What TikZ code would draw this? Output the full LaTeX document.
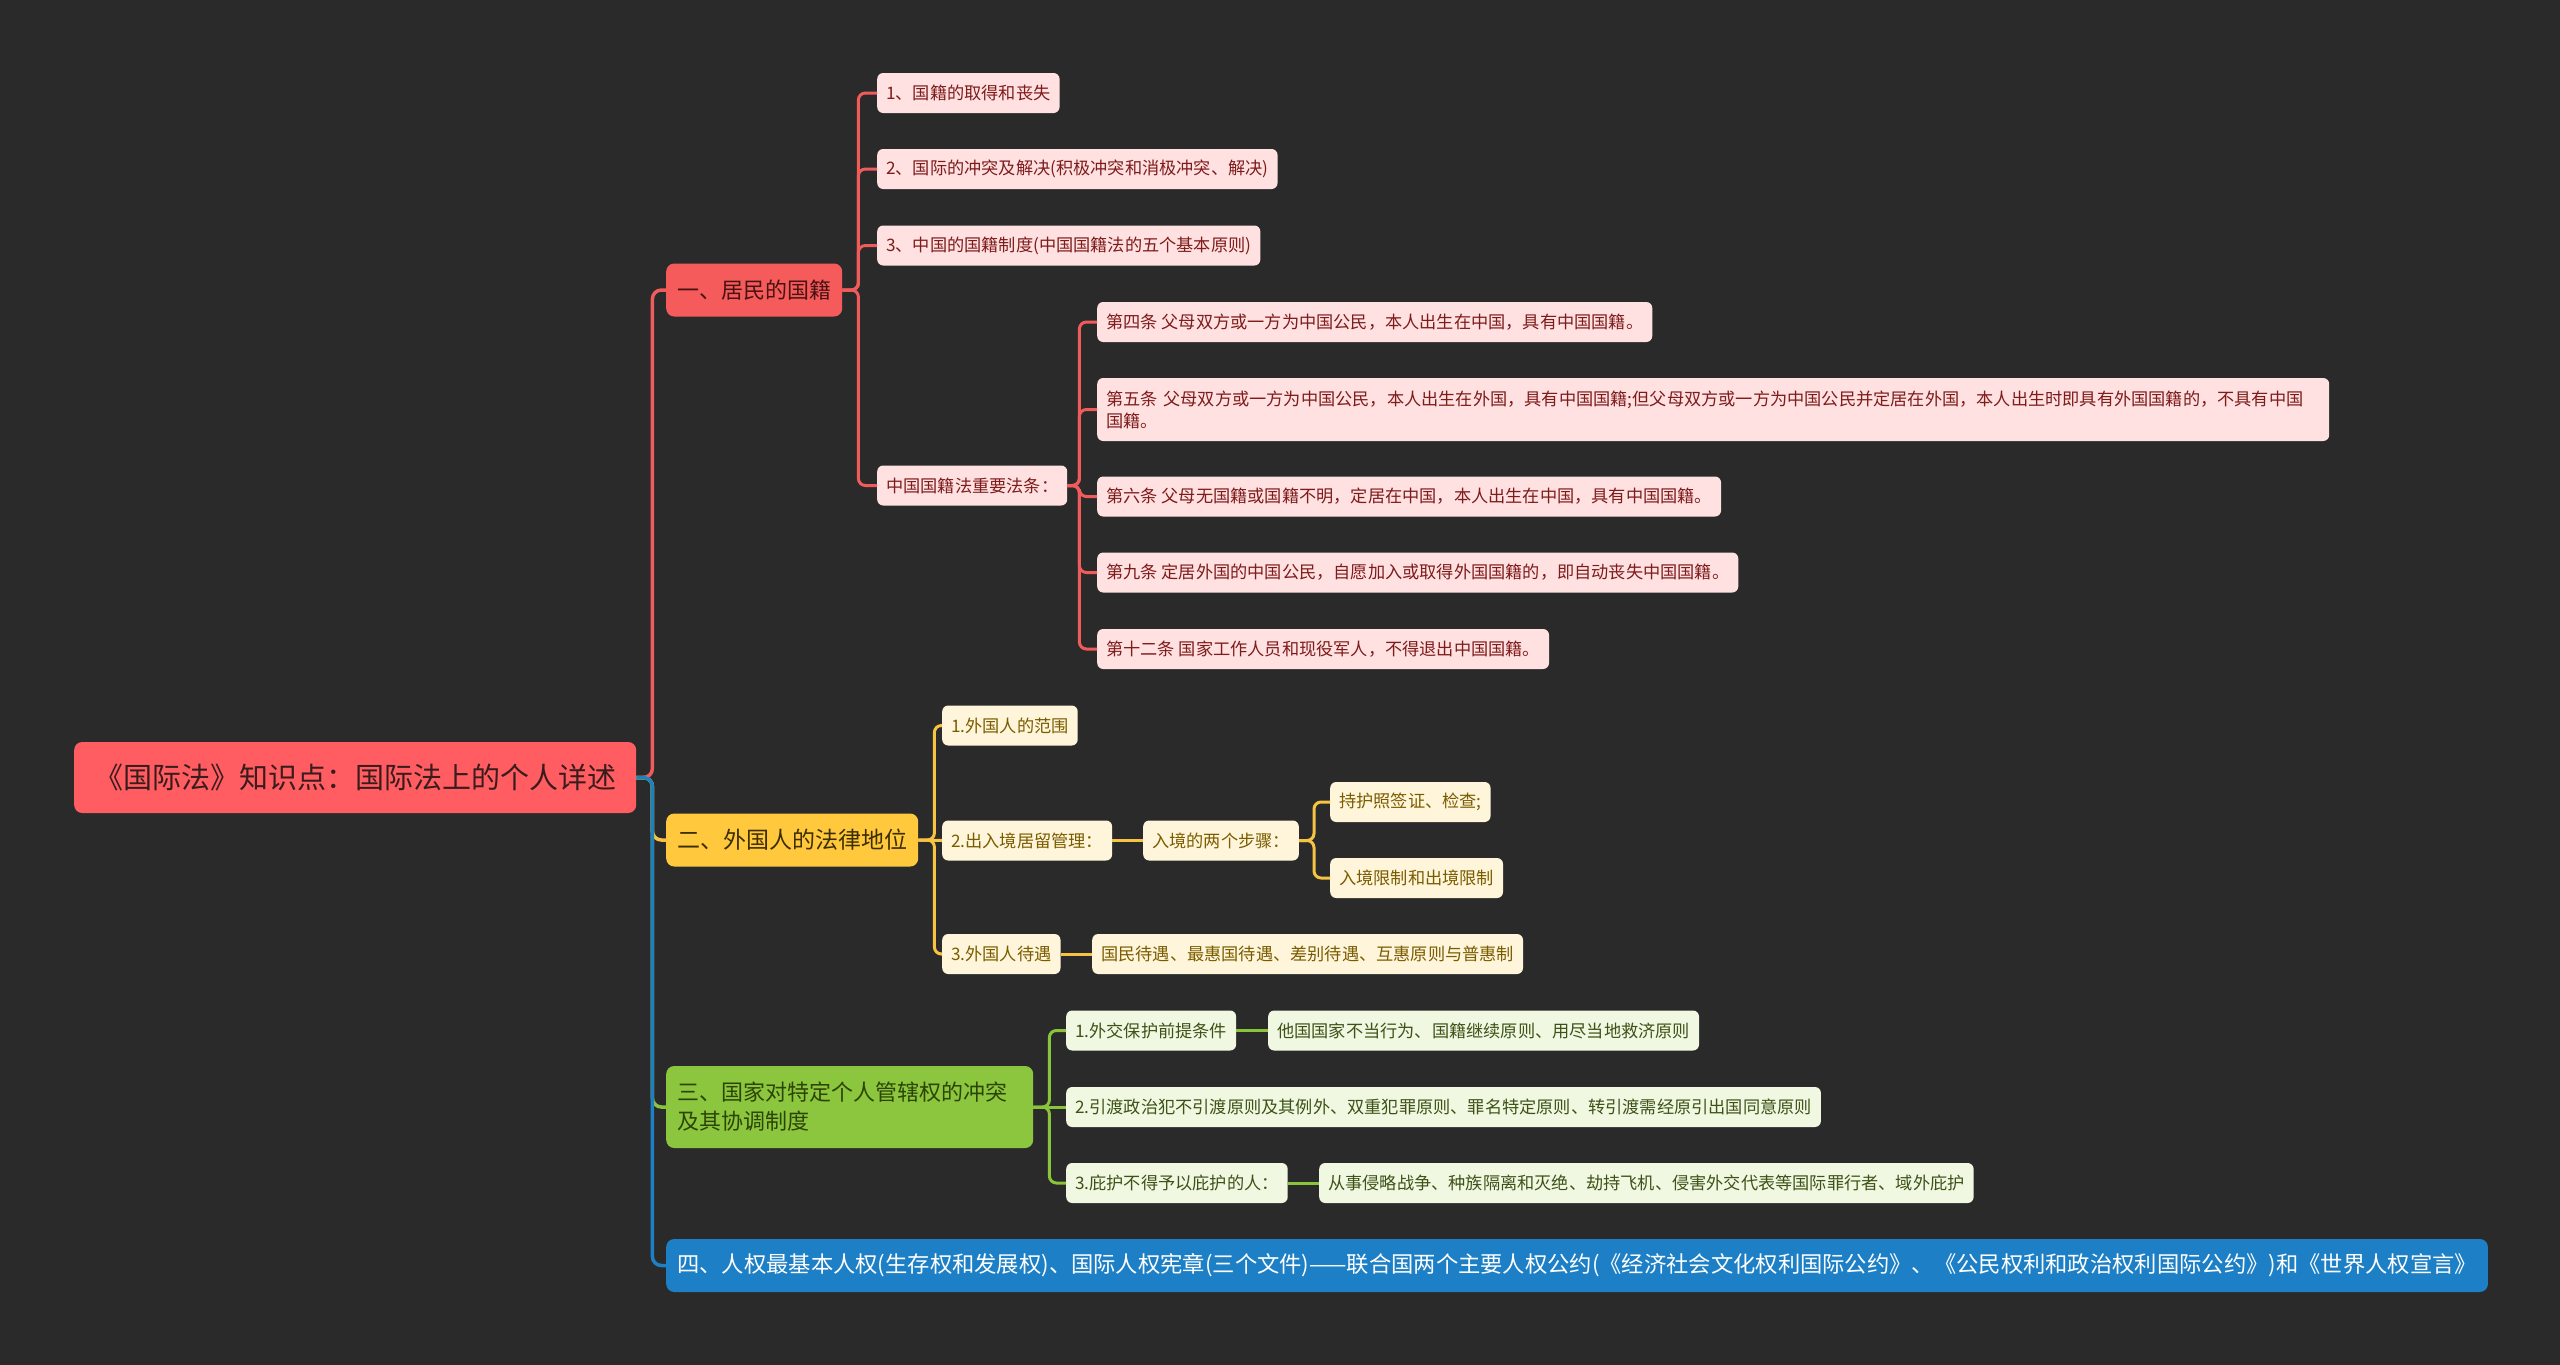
\documentclass[tikz,border=0pt]{standalone}
\usepackage{fontspec}
\setmainfont{Noto Sans CJK SC}
\usepackage{tikz}
\usetikzlibrary{positioning}
\usepackage{xcolor}
\definecolor{bgdark}{HTML}{2A2A2A}
\definecolor{rootfill}{HTML}{FF5D62}
\definecolor{roottext}{HTML}{3A1C1C}
\definecolor{redtopic}{HTML}{F55B5B}
\definecolor{redtopictext}{HTML}{4A1212}
\definecolor{redline}{HTML}{F05B5B}
\definecolor{redleaf}{HTML}{FFE1E1}
\definecolor{redtext}{HTML}{7E1B1B}
\definecolor{yeltopic}{HTML}{FFC83D}
\definecolor{yeltopictext}{HTML}{3D2E00}
\definecolor{yelline}{HTML}{F6C343}
\definecolor{yelleaf}{HTML}{FFF5DA}
\definecolor{yeltext}{HTML}{7A5C00}
\definecolor{grntopic}{HTML}{8CC63E}
\definecolor{grntopictext}{HTML}{2C4506}
\definecolor{grnline}{HTML}{8AC43A}
\definecolor{grnleaf}{HTML}{F1F8E2}
\definecolor{grntext}{HTML}{3E5218}
\definecolor{blutopic}{HTML}{1D80C6}
\definecolor{bluline}{HTML}{1E7FC2}

\begin{document}
\begin{tikzpicture}[x=1pt,y=-1pt,
  rootbox/.style={rounded corners=8pt,anchor=west,fill=rootfill,text=roottext,
    inner xsep=20pt,minimum height=71pt,font=\fontsize{29}{34}\selectfont},
  topic/.style={rounded corners=8pt,anchor=west,inner xsep=11pt,
    minimum height=53pt,font=\fontsize{22}{29}\selectfont},
  leaf/.style={rounded corners=6pt,anchor=west,inner xsep=9pt,
    minimum height=40pt,font=\fontsize{17.2}{22}\selectfont},
  redleafbox/.style={leaf,fill=redleaf,text=redtext},
  yelleafbox/.style={leaf,fill=yelleaf,text=yeltext},
  grnleafbox/.style={leaf,fill=grnleaf,text=grntext},
  mainlink/.style={line width=3.5pt,rounded corners=9pt},
  sublink/.style={line width=3pt,rounded corners=7pt}]
\fill[bgdark] (0,0) rectangle (2560,1365);
\useasboundingbox (0,0) rectangle (2560,1365);

% root
\node[rootbox] (root) at (74,777.5) {《国际法》知识点：国际法上的个人详述};

% main topics
\node[topic,fill=redtopic,text=redtopictext] (t1) at (666,290) {一、居民的国籍};
\node[topic,fill=yeltopic,text=yeltopictext,font=\fontsize{23}{29}\selectfont,minimum width=245pt] (t2) at (666,840) {二、外国人的法律地位};
\node[topic,fill=grntopic,text=grntopictext,text width=345pt,align=left,minimum height=82pt] (t3) at (666,1107) {三、国家对特定个人管辖权的冲突\\及其协调制度};
\node[topic,fill=blutopic,text=white,font=\fontsize{22.3}{29}\selectfont] (t4) at (666,1265.5) {四、人权最基本人权(生存权和发展权)、国际人权宪章(三个文件)——联合国两个主要人权公约(《经济社会文化权利国际公约》、《公民权利和政治权利国际公约》)和《世界人权宣言》};

% nationality
\node[redleafbox] (r1) at (877,93) {1、国籍的取得和丧失};
\node[redleafbox] (r2) at (877,169) {2、国际的冲突及解决(积极冲突和消极冲突、解决)};
\node[redleafbox] (r3) at (877,245.5) {3、中国的国籍制度(中国国籍法的五个基本原则)};
\node[redleafbox] (r4) at (877,485.5) {中国国籍法重要法条：};
\node[redleafbox] (law4) at (1097,322) {第四条 父母双方或一方为中国公民，本人出生在中国，具有中国国籍。};
\node[redleafbox,text width=1214pt,align=left,minimum height=63pt] (law5) at (1097,409.5) {第五条 父母双方或一方为中国公民，本人出生在外国，具有中国国籍;但父母双方或一方为中国公民并定居在外国，本人出生时即具有外国国籍的，不具有中国\\国籍。};
\node[redleafbox] (law6) at (1097,496.5) {第六条 父母无国籍或国籍不明，定居在中国，本人出生在中国，具有中国国籍。};
\node[redleafbox] (law9) at (1097,572.5) {第九条 定居外国的中国公民，自愿加入或取得外国国籍的，即自动丧失中国国籍。};
\node[redleafbox] (law12) at (1097,649) {第十二条 国家工作人员和现役军人，不得退出中国国籍。};

% foreigners
\node[yelleafbox] (y1) at (942,725.5) {1.外国人的范围};
\node[yelleafbox] (y2) at (942,840.5) {2.出入境居留管理：};
\node[yelleafbox] (entry) at (1143,840.5) {入境的两个步骤：};
\node[yelleafbox] (entrya) at (1330,802) {持护照签证、检查;};
\node[yelleafbox] (entryb) at (1330,878) {入境限制和出境限制};
\node[yelleafbox] (y3) at (942,954) {3.外国人待遇};
\node[yelleafbox] (treat) at (1092,954) {国民待遇、最惠国待遇、差别待遇、互惠原则与普惠制};

% jurisdiction
\node[grnleafbox] (g1) at (1066,1030.5) {1.外交保护前提条件};
\node[grnleafbox] (protect) at (1268,1030.5) {他国国家不当行为、国籍继续原则、用尽当地救济原则};
\node[grnleafbox] (g2) at (1066,1107) {2.引渡政治犯不引渡原则及其例外、双重犯罪原则、罪名特定原则、转引渡需经原引出国同意原则};
\node[grnleafbox] (g3) at (1066,1183) {3.庇护不得予以庇护的人：};
\node[grnleafbox] (asylum) at (1319,1183) {从事侵略战争、种族隔离和灭绝、劫持飞机、侵害外交代表等国际罪行者、域外庇护};

% trunk
\draw[mainlink,redline] (root.east) -- ++(16,0) |- (t1.west);
\draw[mainlink,yelline] (root.east) -- ++(16,0) |- (t2.west);
\draw[mainlink,grnline] (root.east) -- ++(16,0) |- (t3.west);
\draw[mainlink,bluline] (root.east) -- ++(16,0) |- (t4.west);

% red links
\draw[sublink,redline] (t1.east) -- ++(16,0) |- (r1.west);
\draw[sublink,redline] (t1.east) -- ++(16,0) |- (r2.west);
\draw[sublink,redline] (t1.east) -- ++(16,0) |- (r3.west);
\draw[sublink,redline] (t1.east) -- ++(16,0) |- (r4.west);
\draw[sublink,redline] (r4.east) -- ++(12,0) |- (law4.west);
\draw[sublink,redline] (r4.east) -- ++(12,0) |- (law5.west);
\draw[sublink,redline] (r4.east) -- ++(12,0) |- (law6.west);
\draw[sublink,redline] (r4.east) -- ++(12,0) |- (law9.west);
\draw[sublink,redline] (r4.east) -- ++(12,0) |- (law12.west);

% yellow links
\draw[sublink,yelline] (t2.east) -- ++(16,0) |- (y1.west);
\draw[sublink,yelline] (t2.east) -- (y2.west);
\draw[sublink,yelline] (t2.east) -- ++(16,0) |- (y3.west);
\draw[sublink,yelline] (y2.east) -- (entry.west);
\draw[sublink,yelline] (entry.east) -- ++(15,0) |- (entrya.west);
\draw[sublink,yelline] (entry.east) -- ++(15,0) |- (entryb.west);
\draw[sublink,yelline] (y3.east) -- (treat.west);

% green links
\draw[sublink,grnline] (t3.east) -- ++(16,0) |- (g1.west);
\draw[sublink,grnline] (t3.east) -- (g2.west);
\draw[sublink,grnline] (t3.east) -- ++(16,0) |- (g3.west);
\draw[sublink,grnline] (g1.east) -- (protect.west);
\draw[sublink,grnline] (g3.east) -- (asylum.west);
\end{tikzpicture}
\end{document}
